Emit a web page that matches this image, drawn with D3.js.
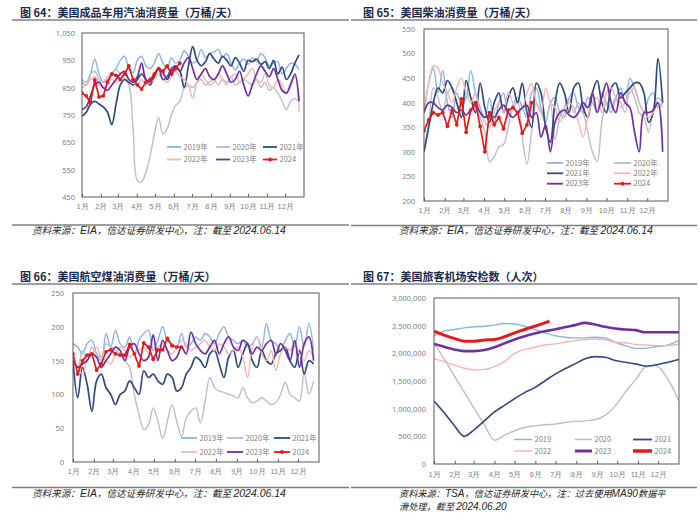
<!DOCTYPE html>
<html><head><meta charset="utf-8">
<script src="https://cdn.jsdelivr.net/npm/d3@7"></script>
<style>
body{margin:0;background:#fff;}
svg{display:block;font-family:"Noto Sans CJK SC","Noto Sans",sans-serif;}
</style></head>
<body><svg id="c" width="700" height="524"></svg>
<script>
// ---------- shared labels ----------
const monthLabels = ["1月","2月","3月","4月","5月","6月","7月","8月","9月","10月","11月","12月"];
const monthDays = [0,31,59,90,120,151,181,212,243,273,304,334];
const yearLabelsCN = ["2019年","2020年","2021年","2022年","2023年","2024"];
const yearLabelsTSA = ["2019","2020","2021","2022","2023","2024"];

// ---------- 图64 gasoline (万桶/天), weekly ----------
const gas2019 = [870,860,900,955,900,870,880,900,920,950,965,920,905,950,965,930,920,940,975,940,920,960,940,950,985,965,940,950,990,960,975,980,990,960,975,940,915,940,955,935,960,945,975,960,930,940,945,900,920,940,935,915];
const gas2020 = [880,870,900,910,880,870,890,905,915,900,880,860,700,510,505,540,600,680,740,680,700,750,785,800,850,860,850,870,880,860,870,880,860,880,870,890,860,870,880,870,860,880,850,870,840,850,830,800,770,800,810,800];
const gas2021 = [745,760,790,800,790,780,760,715,790,860,880,870,860,880,900,880,860,890,920,905,880,910,925,910,850,930,1000,950,930,945,975,955,940,965,950,930,960,940,910,950,945,955,935,945,920,950,900,925,880,900,940,970];
const gas2022 = [850,860,880,890,860,850,870,880,870,880,900,880,870,860,880,860,870,880,900,880,870,890,910,890,880,860,810,870,900,880,860,870,900,880,860,890,900,870,880,900,920,880,870,900,860,850,880,860,830,870,890,760];
const gas2023 = [770,780,820,860,870,850,840,860,880,900,910,880,870,890,940,880,870,900,920,880,890,920,930,910,940,960,920,880,900,920,890,880,900,930,900,870,880,910,860,820,860,900,930,910,890,920,880,840,830,860,900,800];
const gas2024 = [830,820,795,878,816,820,870,900,895,880,900,930,880,860,845,870,880,900,920,910,930,900,920,940];
const gasTicks = [450,550,650,750,850,950,1050];

// ---------- 图65 diesel (万桶/天), weekly ----------
const dsl2019 = [380,440,470,420,465,400,370,420,395,410,465,420,390,370,410,360,400,420,370,395,410,390,370,420,430,390,360,400,410,380,370,410,420,390,380,410,400,380,420,400,380,410,430,400,450,430,400,380,410,420,390,400];
const dsl2020 = [300,360,430,410,380,420,430,400,380,420,410,390,370,340,280,290,310,315,350,390,400,330,275,340,400,380,360,400,325,370,390,410,380,400,380,340,300,280,360,400,390,410,400,380,430,410,380,370,340,390,410,400];
const dsl2021 = [300,350,400,430,420,445,430,400,370,445,410,380,440,390,360,400,420,380,410,430,400,440,380,350,440,420,350,320,400,440,420,380,430,440,390,370,420,445,400,380,430,440,410,420,430,440,440,420,360,380,490,400];
const dsl2022 = [380,440,475,470,440,420,400,430,450,420,400,420,380,360,350,380,400,380,420,400,380,390,420,440,400,380,430,400,390,360,380,400,390,360,330,370,400,410,380,420,430,410,390,400,420,430,400,380,370,380,400,390];
const dsl2023 = [380,400,400,390,385,395,390,380,385,375,385,395,380,370,375,370,385,395,380,370,380,390,395,370,380,330,355,300,360,380,385,375,370,380,400,390,420,380,410,440,400,380,420,400,390,340,300,380,380,385,400,300];
const dsl2024 = [343,365,380,375,380,352,385,355,408,340,385,400,352,300,380,355,370,347,385,390,380,338,355,400];
const dslTicks = [200,250,300,350,400,450,500,550];

// ---------- 图66 jet fuel (万桶/天), weekly ----------
const jet2019 = [175,170,160,175,180,160,150,190,170,195,175,170,185,160,180,190,195,165,180,200,180,175,170,190,170,175,185,180,190,185,175,190,200,185,180,175,180,170,175,185,170,205,180,175,165,180,190,170,200,170,205,165];
const jet2020 = [150,140,165,150,170,160,155,175,170,165,160,150,140,100,70,48,55,80,60,35,60,85,60,38,65,75,80,58,90,125,110,105,103,100,98,95,110,95,88,90,95,90,85,88,100,118,100,95,90,132,100,120];
const jet2021 = [150,95,140,115,75,120,130,110,100,85,100,105,120,110,100,135,125,130,120,115,130,125,105,110,130,140,155,150,140,160,165,145,125,155,165,140,160,175,150,140,165,150,145,160,165,170,150,140,165,130,150,145];
const jet2022 = [150,140,130,150,160,170,155,150,145,160,170,165,155,160,165,170,160,165,170,175,165,160,170,180,175,165,170,175,180,170,165,175,170,160,165,170,155,125,170,185,160,150,165,135,160,170,165,175,160,150,165,155];
const jet2023 = [150,140,145,150,160,155,140,150,160,170,165,150,170,175,160,150,155,188,150,180,165,150,155,170,160,192,175,165,160,170,180,160,175,185,170,165,180,175,160,170,165,175,180,160,175,165,150,180,140,175,185,150];
const jet2024 = [160,130,150,158,160,136,145,163,166,160,158,158,174,160,142,176,170,152,166,166,183,172,170,170];
const jetTicks = [0,50,100,150,200,250];

// ---------- 图67 TSA checkpoint (人次), MA90 ----------
const tsaDays = [0,15,30,45,60,75,90,105,120,135,150,165,180,195,210,225,240,255,270,285,300,315,330,345,365];
const tsa2019 = [2320000,2400000,2430000,2460000,2480000,2490000,2510000,2540000,2530000,2490000,2430000,2370000,2320000,2290000,2280000,2280000,2290000,2280000,2200000,2140000,2090000,2090000,2120000,2140000,2230000];
const tsa2020 = [2190000,1900000,1600000,1300000,1000000,710000,430000,520000,600000,660000,690000,710000,720000,750000,770000,780000,800000,880000,1050000,1300000,1520000,1750000,1780000,1600000,1140000];
const tsa2021 = [1140000,930000,700000,500000,620000,780000,940000,1060000,1180000,1290000,1380000,1500000,1620000,1720000,1810000,1900000,1940000,1930000,1870000,1840000,1810000,1770000,1790000,1830000,1890000];
const tsa2022 = [1900000,1850000,1790000,1730000,1700000,1710000,1760000,1850000,2000000,2070000,2110000,2150000,2170000,2200000,2230000,2250000,2260000,2250000,2200000,2190000,2160000,2150000,2140000,2140000,2170000];
const tsa2023 = [2170000,2120000,2070000,2040000,2040000,2060000,2110000,2180000,2250000,2310000,2360000,2400000,2430000,2470000,2510000,2550000,2520000,2480000,2450000,2430000,2420000,2380000,2380000,2380000,2380000];
const tsaDays2024 = [0,15,30,45,60,75,90,105,120,135,150,165,172];
const tsa2024 = [2400000,2330000,2270000,2220000,2220000,2240000,2250000,2300000,2370000,2430000,2490000,2550000,2580000];
const tsaTicks = [0,500000,1000000,1500000,2000000,2500000,3000000];

// ---------- drawing ----------
const colors = ["#8db3e2","#bcbdcc","#2f4b7c","#f4b5b5","#7030a0","#e31a1c"];
const svg = d3.select("#c");
const weekDays = arr => arr.map((v,i)=>({d:i*7, v}));

function panel(o){
  const g = svg.append("g");
  g.append("text").attr("x",o.titleX).attr("y",o.titleY)
    .attr("font-size",11).attr("font-weight",700).attr("fill","#1b2a4a").text(o.title);
  g.append("line").attr("x1",o.ruleX1).attr("x2",o.ruleX2).attr("y1",o.titleY+3.5).attr("y2",o.titleY+3.5)
    .attr("stroke","#7f7f7f").attr("stroke-width",1.5);

  const x = d3.scaleLinear().domain([0,365]).range([o.px0,o.px1]);
  const y = d3.scaleLinear().domain([o.ymin,o.ymax]).range([o.py1,o.py0]);

  const ya = g.append("g").attr("transform",`translate(${o.px0},0)`)
    .call(d3.axisLeft(y).tickValues(o.ticks).tickSize(0).tickPadding(o.yPad).tickFormat(d3.format(",")));
  ya.select(".domain").remove();
  ya.selectAll("text").attr("font-size",7.5).attr("fill","#7f7f7f").attr("font-family","'Noto Sans','Noto Sans CJK SC',sans-serif");
  const xa = g.append("g").attr("transform",`translate(0,${o.py1})`)
    .call(d3.axisBottom(x).tickValues(monthDays).tickSizeInner(-3).tickSizeOuter(0).tickPadding(o.xPad)
      .tickFormat((d,i)=>monthLabels[i]));
  xa.select(".domain").remove();
  xa.selectAll("line").attr("stroke","#595959");
  xa.selectAll("text").attr("font-size",7.5).attr("fill","#7f7f7f");

  const cid = "clip"+o.id;
  g.append("clipPath").attr("id",cid).append("rect")
    .attr("x",o.px0).attr("y",o.py0).attr("width",o.px1-o.px0).attr("height",o.py1-o.py0);
  const lg = g.append("g").attr("clip-path",`url(#${cid})`);

  o.series.forEach((s,k)=>{
    const line = d3.line().x(p=>x(p.d)).y(p=>y(p.v)).curve(s.curve);
    lg.append("path").datum(s.pts).attr("d",line).attr("fill","none")
      .attr("stroke",colors[k]).attr("stroke-width",s.w).attr("stroke-linejoin","round");
    if(s.markers){
      lg.selectAll(null).data(s.pts).join("circle").attr("cx",p=>x(p.d)).attr("cy",p=>y(p.v))
        .attr("r",1.9).attr("fill",colors[k]);
    }
  });
  g.append("rect").attr("x",o.px0).attr("y",o.py0).attr("width",o.px1-o.px0).attr("height",o.py1-o.py0)
    .attr("fill","none").attr("stroke","#595959").attr("stroke-width",1);

  o.legend.forEach((L,k)=>{
    const s = o.series[k];
    g.append("line").attr("x1",L[0]).attr("x2",L[1]).attr("y1",L[2]).attr("y2",L[2])
      .attr("stroke",colors[k]).attr("stroke-width",o.legendW ? o.legendW[k] : 1.8);
    if(s.markers) g.append("circle").attr("cx",(L[0]+L[1])/2).attr("cy",L[2]).attr("r",2).attr("fill",colors[k]);
    g.append("text").attr("x",L[1]+2.5).attr("y",L[2]).attr("dy","0.35em").attr("font-size",7.5)
      .attr("fill","#7f7f7f").text(o.names[k]);
  });

  g.append("line").attr("x1",o.ruleX1).attr("x2",o.ruleX2).attr("y1",o.srcRuleY).attr("y2",o.srcRuleY)
    .attr("stroke","#7f7f7f").attr("stroke-width",1.5);
  o.src.forEach((line,li)=>{
    const t = g.append("text").attr("x",o.srcX).attr("y",o.srcY+li*13).attr("font-size",o.srcFs||9.6)
      .attr("font-style","italic").attr("fill","#262626");
    line.forEach(seg=>{
      const ts = t.append("tspan").text(seg.t);
      if(seg.b) ts.attr("font-family","'Liberation Sans',Arial,sans-serif").attr("font-size",(o.srcFs||9.6)+0.9);
    });
  });
}

const smooth = d3.curveCatmullRom.alpha(0.5);
function weeklySeries(a){
  return a.map((arr,k)=>({pts:weekDays(arr), curve: k===5?d3.curveLinear:smooth, w: k===2||k===4?1.7:(k===5?1.7:1.4), markers:k===5}));
}
const srcEIA = [[{t:"资料来源："},{t:"EIA",b:true},{t:"，信达证券研发中心，注：截至 "},{t:"2024.06.14",b:true}]];

panel({id:1, title:"图 64：美国成品车用汽油消费量（万桶/天）", titleX:20, titleY:16.5, ruleX1:12, ruleX2:349,
  px0:82, px1:304, py0:33, py1:197, ymin:450, ymax:1050, ticks:gasTicks, yPad:7, xPad:7,
  series:weeklySeries([gas2019,gas2020,gas2021,gas2022,gas2023,gas2024]), names:yearLabelsCN,
  legend:[[167,181,147],[216,230,147],[263,277,147],[167,181,159.5],[216,230,159.5],[263,277,159.5]],
  srcRuleY:225, srcX:32, srcY:234, src:srcEIA});

panel({id:2, title:"图 65：美国柴油消费量（万桶/天）", titleX:363, titleY:16.5, ruleX1:351, ruleX2:697,
  px0:424, px1:668, py0:29, py1:201, ymin:200, ymax:550, ticks:dslTicks, yPad:9, xPad:7,
  series:weeklySeries([dsl2019,dsl2020,dsl2021,dsl2022,dsl2023,dsl2024]), names:yearLabelsCN,
  legend:[[547,563,163],[614,631,163],[547,563,173.3],[614,631,173.3],[547,563,183.7],[614,631,183.7]],
  srcRuleY:225.5, srcX:399, srcY:234, src:srcEIA});

panel({id:3, title:"图 66：美国航空煤油消费量（万桶/天）", titleX:20, titleY:280.5, ruleX1:12, ruleX2:349,
  px0:73, px1:319, py0:293, py1:462, ymin:0, ymax:250, ticks:jetTicks, yPad:9, xPad:7,
  series:weeklySeries([jet2019,jet2020,jet2021,jet2022,jet2023,jet2024]), names:yearLabelsCN,
  legend:[[181,197,438],[227,243,438],[274,290,438],[181,197,452],[227,243,452],[274,290,452]],
  srcRuleY:487.5, srcX:32, srcY:497, src:srcEIA});

const tsaSeries = [tsa2019,tsa2020,tsa2021,tsa2022,tsa2023].map((arr,k)=>({
  pts: tsaDays.map((d,i)=>({d, v:arr[i]})), curve: d3.curveMonotoneX, w: k===4?2.6:(k===2?1.6:1.4), markers:false}));
tsaSeries.push({pts: tsaDays2024.map((d,i)=>({d, v:tsa2024[i]})), curve:d3.curveMonotoneX, w:3, markers:false});

panel({id:4, title:"图 67：美国旅客机场安检数（人次）", titleX:363, titleY:280.5, ruleX1:351, ruleX2:697,
  px0:434, px1:679, py0:298, py1:464, ymin:0, ymax:3000000, ticks:tsaTicks, yPad:8, xPad:8,
  series:tsaSeries, names:yearLabelsTSA, legendW:[1.5,1.5,1.8,1.5,3,3.5],
  legend:[[514,532,439.5],[575,592,439.5],[633,652,439.5],[514,532,451],[575,592,451],[633,652,451]],
  srcRuleY:487.5, srcX:399, srcY:497, srcFs:9.2,
  src:[[{t:"资料来源："},{t:"TSA",b:true},{t:"，信达证券研发中心，注：过去使用"},{t:"MA90",b:true},{t:"数据平"}],
       [{t:"滑处理，截至 "},{t:"2024.06.20",b:true}]]});
</script>
</body></html>
